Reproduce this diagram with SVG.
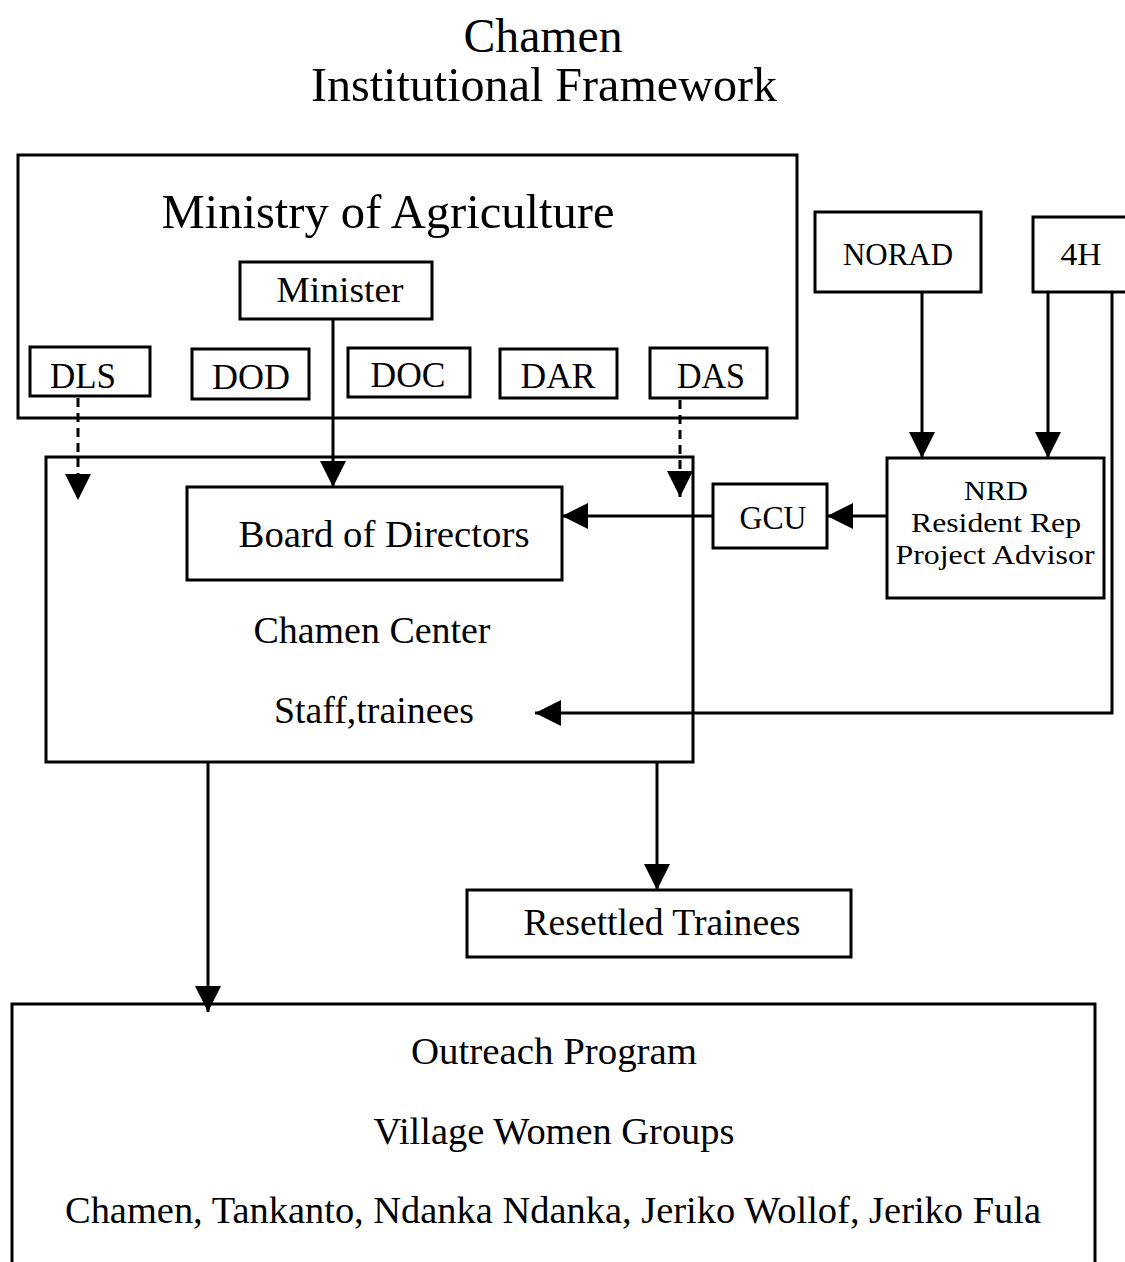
<svg xmlns="http://www.w3.org/2000/svg" width="1125" height="1262" viewBox="0 0 1125 1262">
<defs>
<style>
.b{fill:none;stroke:#000;stroke-width:3}
.t{font-family:"Liberation Serif","Times New Roman",serif;fill:#000;text-anchor:middle}
.c{fill:none;stroke:#000;stroke-width:3}
.d{fill:none;stroke:#000;stroke-width:3;stroke-dasharray:9,6}
</style>
<marker id="ah" markerUnits="userSpaceOnUse" markerWidth="26" markerHeight="32" viewBox="0 0 26 32" refX="26" refY="16" orient="auto">
<path d="M0,3 L26,16 L0,29 Z" fill="#000"/>
</marker>
</defs>
<rect width="1125" height="1262" fill="#fff"/>
<g id="title">
<text class="t" x="543" y="52" font-size="48" textLength="159" lengthAdjust="spacingAndGlyphs">Chamen</text>
<text class="t" x="544" y="101" font-size="48" textLength="466" lengthAdjust="spacingAndGlyphs">Institutional Framework</text>
</g>
<g id="ministry">
<rect class="b" x="18" y="155" width="779" height="263"/>
<text class="t" x="388" y="228" font-size="48" textLength="453" lengthAdjust="spacingAndGlyphs">Ministry of Agriculture</text>
</g>
<g id="minister"><rect class="b" x="240" y="262" width="192" height="57"/><text class="t" x="340" y="302" font-size="36" textLength="127" lengthAdjust="spacingAndGlyphs">Minister</text></g>
<g id="dls"><rect class="b" x="30" y="347" width="120" height="49"/><text class="t" x="83" y="388" font-size="36" textLength="66" lengthAdjust="spacingAndGlyphs">DLS</text></g>
<g id="dod"><rect class="b" x="192" y="349" width="117" height="50"/><text class="t" x="251" y="389" font-size="36" textLength="78" lengthAdjust="spacingAndGlyphs">DOD</text></g>
<g id="doc"><rect class="b" x="348" y="348" width="122" height="49"/><text class="t" x="408" y="387" font-size="36" textLength="75" lengthAdjust="spacingAndGlyphs">DOC</text></g>
<g id="dar"><rect class="b" x="500" y="349" width="117" height="49"/><text class="t" x="558" y="388" font-size="36" textLength="75" lengthAdjust="spacingAndGlyphs">DAR</text></g>
<g id="das"><rect class="b" x="650" y="348" width="117" height="50"/><text class="t" x="711" y="388" font-size="36" textLength="68" lengthAdjust="spacingAndGlyphs">DAS</text></g>
<g id="chamen-center">
<rect class="b" x="46" y="457" width="647" height="305"/>
<text class="t" x="372" y="643" font-size="37" textLength="237" lengthAdjust="spacingAndGlyphs">Chamen Center</text>
<text class="t" x="374" y="723" font-size="37" textLength="200" lengthAdjust="spacingAndGlyphs">Staff,trainees</text>
</g>
<g id="board"><rect class="b" x="187" y="487" width="375" height="93"/><text class="t" x="384" y="547" font-size="38" textLength="291" lengthAdjust="spacingAndGlyphs">Board of Directors</text></g>
<g id="norad"><rect class="b" x="815" y="212" width="166" height="80"/><text class="t" x="898" y="265" font-size="32" textLength="110" lengthAdjust="spacingAndGlyphs">NORAD</text></g>
<g id="h4"><rect class="b" x="1033" y="217" width="95" height="75"/><text class="t" x="1081" y="265" font-size="32" textLength="41" lengthAdjust="spacingAndGlyphs">4H</text></g>
<g id="nrd">
<rect class="b" x="887" y="458" width="217" height="140"/>
<text class="t" x="996" y="500" font-size="28" textLength="64" lengthAdjust="spacingAndGlyphs">NRD</text>
<text class="t" x="996" y="532" font-size="28" textLength="170" lengthAdjust="spacingAndGlyphs">Resident Rep</text>
<text class="t" x="995" y="564" font-size="28" textLength="199" lengthAdjust="spacingAndGlyphs">Project Advisor</text>
</g>
<g id="gcu"><rect class="b" x="713" y="484" width="114" height="64"/><text class="t" x="773" y="529" font-size="33" textLength="67" lengthAdjust="spacingAndGlyphs">GCU</text></g>
<g id="resettled"><rect class="b" x="467" y="890" width="384" height="67"/><text class="t" x="662" y="935" font-size="37" textLength="277" lengthAdjust="spacingAndGlyphs">Resettled Trainees</text></g>
<g id="outreach">
<rect class="b" x="12" y="1004" width="1083" height="270"/>
<text class="t" x="554" y="1064" font-size="37" textLength="286" lengthAdjust="spacingAndGlyphs">Outreach Program</text>
<text class="t" x="554" y="1144" font-size="37" textLength="361" lengthAdjust="spacingAndGlyphs">Village Women Groups</text>
<text class="t" x="553" y="1223" font-size="37" textLength="976" lengthAdjust="spacingAndGlyphs">Chamen, Tankanto, Ndanka Ndanka, Jeriko Wollof, Jeriko Fula</text>
</g>
<g id="connectors">
<line class="c" x1="333" y1="319" x2="333" y2="487" marker-end="url(#ah)"/>
<line class="d" x1="78" y1="398" x2="78" y2="500" marker-end="url(#ah)"/>
<line class="d" x1="680" y1="400" x2="680" y2="497" marker-end="url(#ah)"/>
<line class="c" x1="922" y1="292" x2="922" y2="458" marker-end="url(#ah)"/>
<line class="c" x1="1048" y1="292" x2="1048" y2="458" marker-end="url(#ah)"/>
<line class="c" x1="887" y1="516" x2="827" y2="516" marker-end="url(#ah)"/>
<line class="c" x1="713" y1="516" x2="562" y2="516" marker-end="url(#ah)"/>
<polyline class="c" points="1112,292 1112,713 535,713" marker-end="url(#ah)"/>
<line class="c" x1="208" y1="762" x2="208" y2="1012" marker-end="url(#ah)"/>
<line class="c" x1="657" y1="762" x2="657" y2="890" marker-end="url(#ah)"/>
</g>
</svg>
